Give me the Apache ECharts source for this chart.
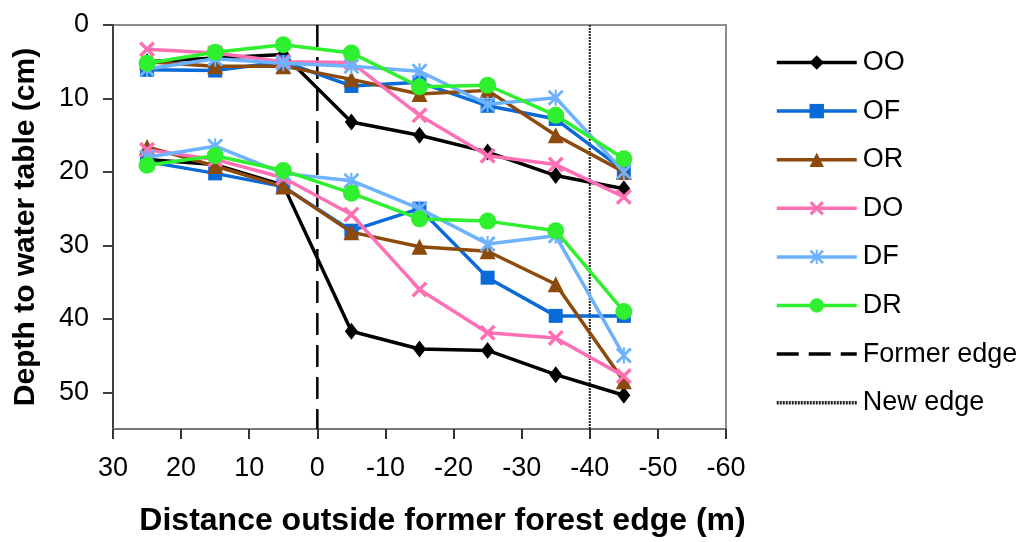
<!DOCTYPE html>
<html>
<head>
<meta charset="utf-8">
<script src="https://cdn.jsdelivr.net/npm/echarts@6/dist/echarts.min.js"></script>
<style>
  html, body { margin: 0; padding: 0; background: #fff; }
  #chart { width: 1025px; height: 542px; }
</style>
</head>
<body>
<div id="chart"></div>
<script>
// distance outside former forest edge (m)
const distances = [25, 15, 5, -5, -15, -25, -35, -45];
const xTicks = { min: -60, max: 30, step: 10 };
const yTicks = { min: 0, max: 55, step: 10 };
const formerEdgeX = 0;
const newEdgeX = -40;

const groups = ["OO", "OF", "OR", "DO", "DF", "DR"];

// shallow (upper) curves
const shallowOO = [5.0, 4.5, 4.0, 13.2, 15.0, 17.3, 20.5, 22.3];
const shallowOF = [6.1, 6.2, 5.0, 8.3, 7.8, 11.0, 12.8, 19.8];
const shallowOR = [5.0, 5.6, 5.6, 7.4, 9.4, 8.9, 15.0, 20.0];
const shallowDO = [3.3, 3.8, 5.0, 5.1, 12.3, 17.8, 19.0, 23.4];
const shallowDF = [6.0, 4.6, 5.2, 5.6, 6.3, 10.8, 9.9, 20.0];
const shallowDR = [5.2, 3.7, 2.7, 3.8, 8.4, 8.2, 12.3, 18.2];

// deep (lower) curves
const deepOO = [18.3, 19.0, 21.8, 41.7, 44.1, 44.3, 47.6, 50.4];
const deepOF = [18.6, 20.2, 22.0, 28.0, 25.0, 34.4, 39.6, 39.6];
const deepOR = [16.6, 19.2, 22.0, 28.2, 30.2, 30.8, 35.3, 48.5];
const deepDO = [17.0, 18.3, 20.8, 25.8, 36.0, 41.9, 42.6, 47.8];
const deepDF = [18.0, 16.5, 20.2, 21.2, 25.0, 29.8, 28.7, 45.0];
const deepDR = [19.1, 17.8, 19.8, 22.9, 26.4, 26.7, 28.0, 39.0];

const shallow = [shallowOO, shallowOF, shallowOR, shallowDO, shallowDF, shallowDR];
const deep = [deepOO, deepOF, deepOR, deepDO, deepDF, deepDR];

const FONT = "Liberation Sans";
const xPath = "path://M0,3 L3,0 L20,17 L17,20 Z M17,0 L20,3 L3,20 L0,17 Z";
const starPath = "path://M0,2.5 L2.5,0 L20,17.5 L17.5,20 Z M17.5,0 L20,2.5 L2.5,20 L0,17.5 Z M8.7,0 L11.3,0 L11.3,20 L8.7,20 Z";

const styles = {
  OO: { color: "#000000", symbol: "diamond", size: [13, 17] },
  OF: { color: "#0a6ad8", symbol: "rect", size: 14 },
  OR: { color: "#8c4a0c", symbol: "triangle", size: 16 },
  DO: { color: "#ff6fb3", symbol: xPath, size: 16 },
  DF: { color: "#6cb2ff", symbol: starPath, size: 16 },
  DR: { color: "#2ef02e", symbol: "circle", size: 17 },
};

const series = [];

series.push({
  name: "Former edge",
  type: "line",
  data: [[formerEdgeX, yTicks.min], [formerEdgeX, yTicks.max]],
  symbol: "none",
  itemStyle: { color: "rgba(0,0,0,0)" },
  lineStyle: { color: "#000", width: 2.5, type: [22, 10] },
  z: 1,
});
series.push({
  name: "New edge",
  type: "line",
  data: [[newEdgeX, yTicks.min], [newEdgeX, yTicks.max]],
  symbol: "none",
  itemStyle: { color: "rgba(0,0,0,0)" },
  lineStyle: { color: "#222", width: 2, type: [2, 1] },
  z: 1,
});

groups.forEach((g, i) => {
  const s = styles[g];
  [shallow[i], deep[i]].forEach((vals) => {
    series.push({
      name: g,
      type: "line",
      data: vals.map((v, j) => [distances[j], v]),
      symbol: s.symbol,
      symbolSize: s.size,
      showAllSymbol: true,
      color: s.color,
      itemStyle: { color: s.color, opacity: 1 },
      lineStyle: { color: s.color, width: 3.5 },
      z: 2 + i,
    });
  });
});

const chart = echarts.init(document.getElementById("chart"));
chart.setOption({
  animation: false,
  backgroundColor: "#fff",
  textStyle: { fontFamily: FONT },
  grid: {
    left: 113,
    right: 299,
    top: 25,
    bottom: 109,
    show: true,
    borderColor: "#8c8c8c",
    borderWidth: 2,
  },
  legend: {
    orient: "vertical",
    left: 770,
    top: 44,
    itemWidth: 80,
    itemHeight: 18,
    itemGap: 21.6,
    lineStyle: { width: 3.5 },
    data: groups.concat(["Former edge", "New edge"]),
    textStyle: { fontFamily: FONT, fontSize: 27, color: "#000", padding: [0, 0, 0, 1] },
  },
  xAxis: {
    type: "value",
    inverse: true,
    min: xTicks.min,
    max: xTicks.max,
    interval: xTicks.step,
    name: "Distance outside former forest edge (m)",
    nameLocation: "middle",
    nameGap: 76,
    nameTextStyle: { fontFamily: FONT, fontSize: 32, fontWeight: "bold", color: "#000", padding: [0, 0, 0, 46] },
    axisLine: { show: true, onZero: false, lineStyle: { color: "#777", width: 2 } },
    axisTick: { show: true, length: 10, lineStyle: { color: "#333", width: 2 } },
    axisLabel: { fontFamily: FONT, fontSize: 27, color: "#000", margin: 26 },
    splitLine: { show: false },
  },
  yAxis: {
    type: "value",
    inverse: true,
    min: yTicks.min,
    max: yTicks.max,
    interval: yTicks.step,
    name: "Depth to water table (cm)",
    nameLocation: "middle",
    nameGap: 72,
    nameRotate: 90,
    nameTextStyle: { fontFamily: FONT, fontSize: 30, fontWeight: "bold", color: "#000" },
    axisLine: { show: true, onZero: false, lineStyle: { color: "#404040", width: 2 } },
    axisTick: { show: true, length: 10, lineStyle: { color: "#404040", width: 2 } },
    axisLabel: { fontFamily: FONT, fontSize: 27, color: "#000", margin: 24, showMaxLabel: false },
    splitLine: { show: false },
  },
  series: series,
});
</script>
</body>
</html>
